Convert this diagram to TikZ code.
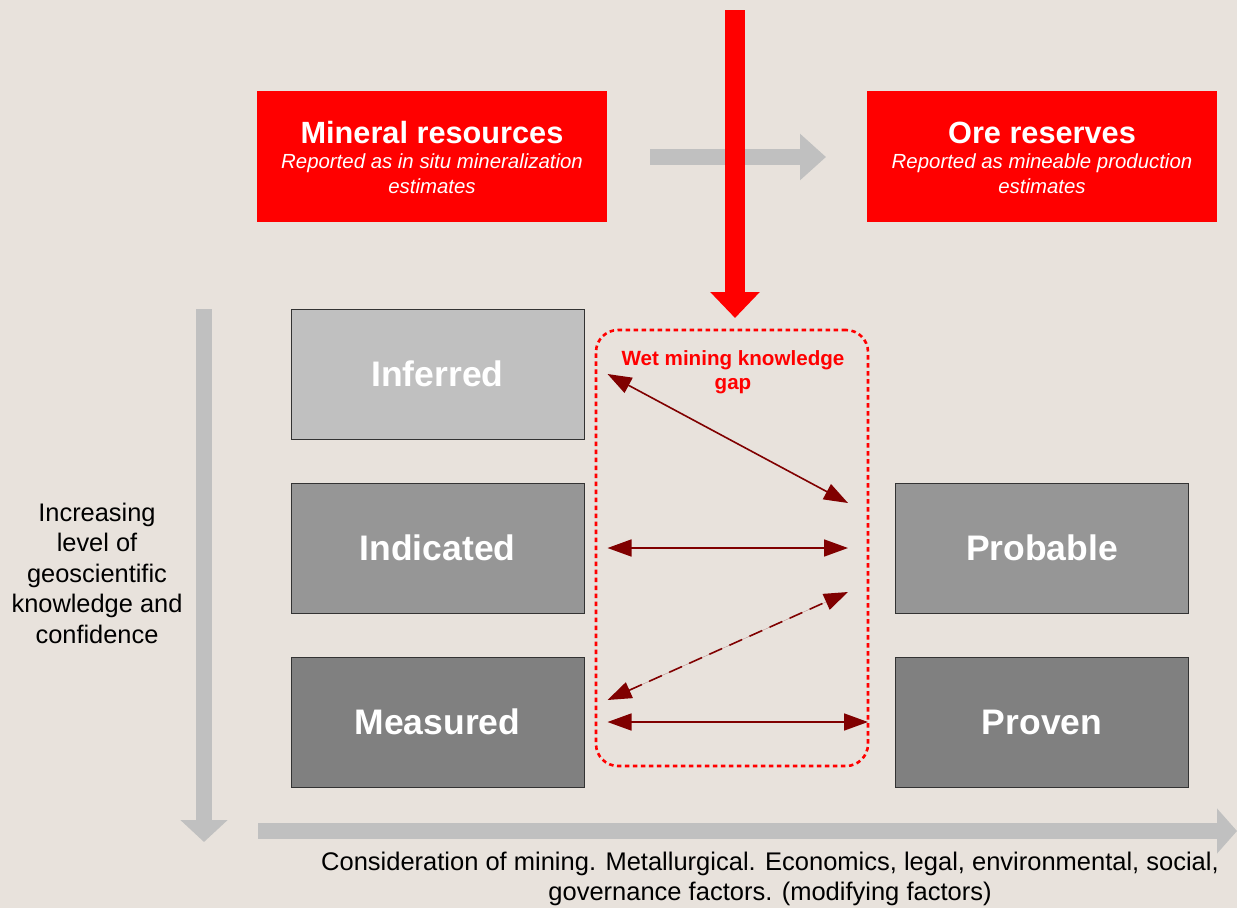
\documentclass[tikz,border=0pt]{standalone}
\usepackage{fontspec}
\setmainfont{Liberation Sans}
\usetikzlibrary{arrows.meta}
\definecolor{bg}{HTML}{E8E2DC}
\definecolor{boxred}{HTML}{FF0000}
\definecolor{lgray}{HTML}{C0C0C0}
\definecolor{mgray}{HTML}{969696}
\definecolor{dgray}{HTML}{808080}
\definecolor{darkred}{HTML}{800000}
\definecolor{bordergray}{HTML}{333333}
\tikzset{
  redbox/.style={fill=boxred, draw=none, minimum width=350pt, minimum height=131pt, inner sep=0pt},
  redtitle/.style={text=white, inner sep=0pt, anchor=base, font=\fontsize{30.7}{34}\selectfont\bfseries},
  redsub/.style={text=white, inner sep=0pt, anchor=base, font=\fontsize{20.4}{25}\selectfont\itshape},
  graybox/.style={draw=bordergray, line width=1pt, minimum width=293pt, minimum height=130pt, inner sep=0pt, text=white, font=\fontsize{35.5}{40}\selectfont\bfseries},
  bigarrow/.style={line width=16pt, color=lgray},
  gaparrow/.style={draw=darkred, fill=darkred, line width=1.6pt, {Triangle[length=24pt,width=17pt]}-{Triangle[length=24pt,width=17pt]}},
  gapbox/.style={draw=boxred, line width=2.6pt, dash pattern=on 4.5pt off 3.5pt, rounded corners=22pt, minimum width=272pt, minimum height=436pt, inner sep=0pt}
}
\begin{document}
\begin{tikzpicture}[x=1pt,y=-1pt]
\fill[bg] (0,0) rectangle (1237,908);
\useasboundingbox (0,0) rectangle (1237,908);

% top boxes
\node[redbox] (mr) at (432,156.5) {};
\node[redtitle] (mrt) at (432,143) {Mineral resources};
\node[redsub] (mrs1) at (432,168.5) {Reported as in situ mineralization};
\node[redsub] (mrs2) at (432,193.5) {estimates};
\node[redbox] (or) at (1042,156.5) {};
\node[redtitle] (ort) at (1042,143) {Ore reserves};
\node[redsub] (ors1) at (1042,168.5) {Reported as mineable production};
\node[redsub] (ors2) at (1042,193.5) {estimates};

% gray arrow between top boxes
\coordinate (ga1) at (650,157);
\coordinate (ga2) at (826,157);
\draw[bigarrow, -{Triangle[length=26pt,width=45pt]}] (ga1) -- (ga2);

% red vertical arrow
\coordinate (ra1) at (735,10);
\coordinate (ra2) at (735,318);
\draw[line width=20pt, color=boxred, -{Triangle[length=26pt,width=48pt]}] (ra1) -- (ra2);

% category boxes
\node[graybox, fill=lgray] (inf) at (437.5,374) {Inferred};
\node[graybox, fill=mgray] (ind) at (437.5,548) {Indicated};
\node[graybox, fill=dgray] (mea) at (437.5,722) {Measured};
\node[graybox, fill=mgray] (pro) at (1042,548) {Probable};
\node[graybox, fill=dgray] (prv) at (1042,722) {Proven};

% knowledge gap box
\node[gapbox] (gap) at (732,548) {};
\node[text=boxred, align=center, font=\fontsize{20.6}{24}\selectfont\bfseries] (gaptxt) at (733,372) {Wet mining knowledge\\gap};

% gap arrows
\coordinate (a1s) at ([xshift=23pt]inf.east);
\coordinate (a1e) at ([xshift=-47pt,yshift=45pt]pro.west);
\coordinate (a2s) at ([xshift=23pt]ind.east);
\coordinate (a2e) at ([xshift=-47pt]pro.west);
\coordinate (a3s) at ([xshift=23pt,yshift=22pt]mea.east);
\coordinate (a3e) at ([xshift=-47pt,yshift=-44pt]pro.west);
\coordinate (a4s) at ([xshift=23pt]mea.east);
\coordinate (a4e) at ([xshift=-27pt]prv.west);
\draw[gaparrow] (a1s) -- (a1e);
\draw[gaparrow] (a2s) -- (a2e);
\draw[gaparrow, dash pattern=on 14pt off 8pt] (a3s) -- (a3e);
\draw[gaparrow] (a4s) -- (a4e);

% left vertical arrow
\coordinate (lv1) at (204,309);
\coordinate (lv2) at (204,842);
\draw[bigarrow, -{Triangle[length=22pt,width=46pt]}] (lv1) -- (lv2);
\node[align=center, font=\fontsize{25.4}{30.5}\selectfont] (lefttxt) at (97,573) {Increasing\\level of\\geoscientific\\knowledge and\\confidence};

% bottom arrow
\coordinate (bh1) at (258,831);
\coordinate (bh2) at (1237,831);
\draw[bigarrow, -{Triangle[length=20pt,width=44pt]}] (bh1) -- (bh2);
\node[align=center, font=\fontsize{25.5}{30}\selectfont] (bottxt) at (770,879) {Consideration of mining. Metallurgical. Economics, legal, environmental, social,\\governance factors. (modifying factors)};
\end{tikzpicture}
\end{document}
